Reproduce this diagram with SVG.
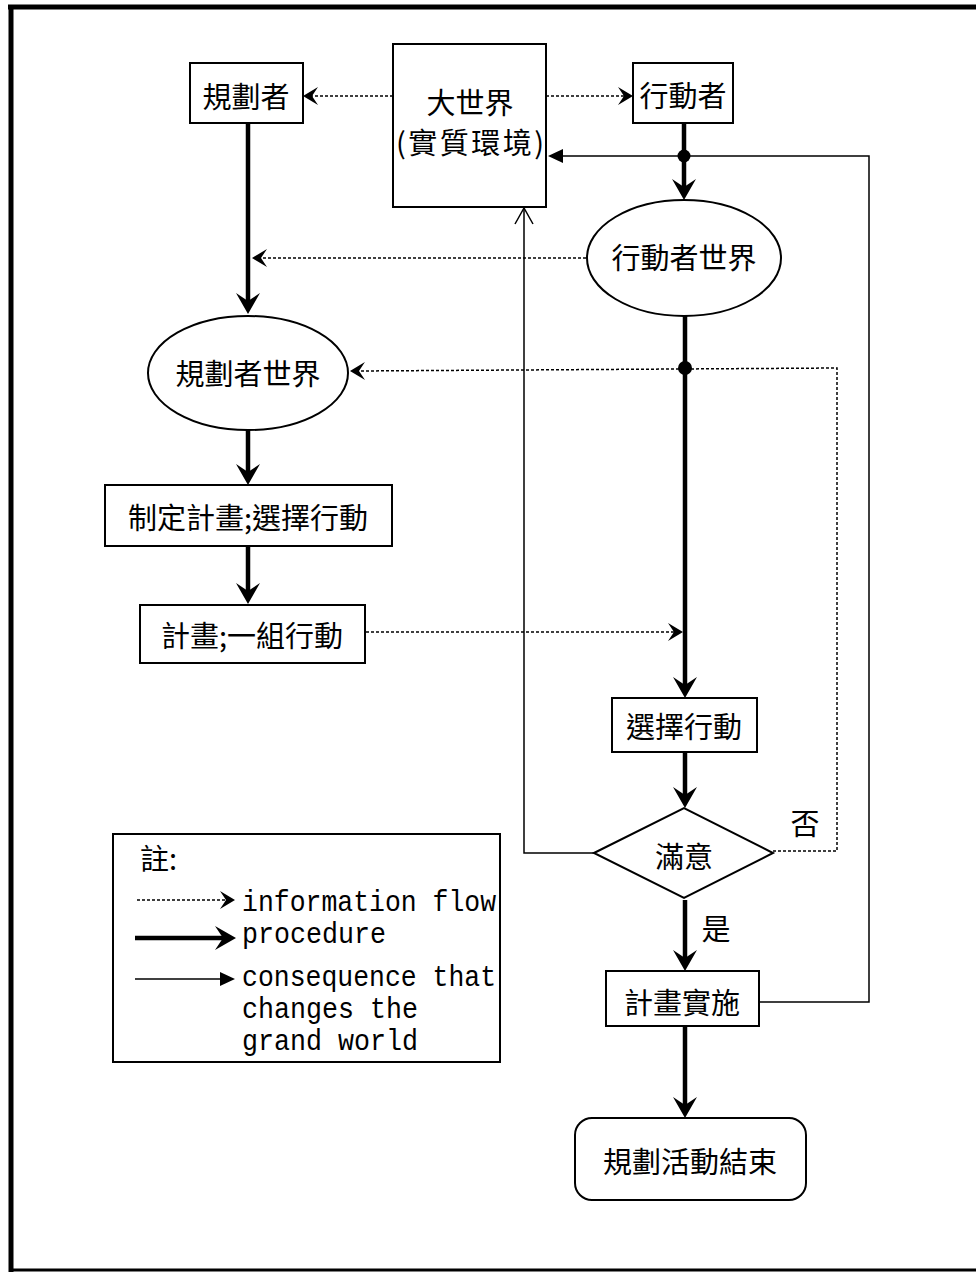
<svg xmlns="http://www.w3.org/2000/svg" width="976" height="1272" viewBox="0 0 976 1272">
<defs>
<style>
.box{fill:#fff;stroke:#000;stroke-width:2}
.t{font-family:"Noto Sans CJK TC","Noto Sans CJK SC",sans-serif;font-size:29px;text-anchor:middle;dominant-baseline:central;fill:#000}
.lg{font-family:"Liberation Mono",monospace;font-size:30px;fill:#000}
.info{fill:none;stroke:#000;stroke-width:1.5;stroke-dasharray:3 2}
.proc{fill:none;stroke:#000;stroke-width:4.5}
.cons{fill:none;stroke:#000;stroke-width:1.5}
.frame{fill:none;stroke:#000}
</style>
<marker id="mProc" markerUnits="userSpaceOnUse" viewBox="-24 -13 26 26" markerWidth="26" markerHeight="26" refX="-7" refY="0" orient="auto">
<path d="M0,0 L-21,-12 L-13,0 L-21,12 Z" fill="#000"/>
</marker>
<marker id="mInfo" markerUnits="userSpaceOnUse" viewBox="-18 -11 20 22" markerWidth="20" markerHeight="22" refX="-6" refY="0" orient="auto">
<path d="M0,0 L-15,-9 L-9,0 L-15,9 Z" fill="#000"/>
</marker>
<marker id="mCons" markerUnits="userSpaceOnUse" viewBox="-17 -9 18 18" markerWidth="18" markerHeight="18" refX="-10" refY="0" orient="auto">
<path d="M0,0 L-15,-7 L-15,7 Z" fill="#000"/>
</marker>
<marker id="mOpen" markerUnits="userSpaceOnUse" viewBox="-18 -11 20 22" markerWidth="20" markerHeight="22" refX="0" refY="0" orient="auto">
<path d="M-16,-9 L0,0 L-16,9" fill="none" stroke="#000" stroke-width="1.5"/>
</marker>
</defs>
<rect x="0" y="0" width="976" height="1272" fill="#fff"/>
<g id="frame">
<line class="frame" x1="8" y1="7" x2="976" y2="7" stroke-width="5"/>
<line class="frame" x1="11" y1="5" x2="11" y2="1272" stroke-width="5"/>
<line class="frame" x1="9" y1="1270" x2="976" y2="1270" stroke-width="3"/>
</g>
<g id="connectors">
<line class="info" x1="393" y1="96" x2="309" y2="96" marker-end="url(#mInfo)"/>
<line class="info" x1="546" y1="96" x2="627" y2="96" marker-end="url(#mInfo)"/>
<line class="info" x1="586" y1="258" x2="258" y2="258" marker-end="url(#mInfo)"/>
<polyline class="info" points="773,851 837,851 837,368 356,371" marker-end="url(#mInfo)"/>
<line class="info" x1="366" y1="632" x2="677" y2="632" marker-end="url(#mInfo)"/>
<line class="proc" x1="248" y1="123" x2="248" y2="307" marker-end="url(#mProc)"/>
<line class="proc" x1="684" y1="123" x2="684" y2="193" marker-end="url(#mProc)"/>
<line class="proc" x1="248" y1="430" x2="248" y2="478" marker-end="url(#mProc)"/>
<line class="proc" x1="248" y1="547" x2="248" y2="597" marker-end="url(#mProc)"/>
<line class="proc" x1="685" y1="316" x2="685" y2="691" marker-end="url(#mProc)"/>
<line class="proc" x1="685" y1="752" x2="685" y2="801" marker-end="url(#mProc)"/>
<line class="proc" x1="685" y1="900" x2="685" y2="964" marker-end="url(#mProc)"/>
<line class="proc" x1="685" y1="1027" x2="685" y2="1111" marker-end="url(#mProc)"/>
<polyline class="cons" points="759,1002 869,1002 869,156 558,156" marker-end="url(#mCons)"/>
<polyline class="cons" points="594,853 524,853 524,208" marker-end="url(#mOpen)"/>
<circle cx="684" cy="156" r="6.5" fill="#000"/>
<circle cx="685" cy="368" r="7" fill="#000"/>
</g>
<g id="n-planner">
<rect class="box" x="190" y="63" width="113" height="60"/>
<text class="t" x="246" y="95">規劃者</text>
</g>
<g id="n-grandworld">
<rect class="box" x="393" y="44" width="153" height="163"/>
<text class="t" x="470" y="101">大世界</text>
<text class="t" x="470" y="141" textLength="148" lengthAdjust="spacing">(實質環境)</text>
</g>
<g id="n-actor">
<rect class="box" x="633" y="63" width="100" height="60"/>
<text class="t" x="683" y="94">行動者</text>
</g>
<g id="n-actorworld">
<ellipse class="box" cx="684" cy="258" rx="97" ry="58"/>
<text class="t" x="684" y="256">行動者世界</text>
</g>
<g id="n-plannerworld">
<ellipse class="box" cx="248" cy="373" rx="100" ry="57"/>
<text class="t" x="248" y="372">規劃者世界</text>
</g>
<g id="n-makeplan">
<rect class="box" x="105" y="485" width="287" height="61"/>
<text class="t" x="248" y="516">制定計畫;選擇行動</text>
</g>
<g id="n-plan">
<rect class="box" x="140" y="605" width="225" height="58"/>
<text class="t" x="252" y="634">計畫;一組行動</text>
</g>
<g id="n-choose">
<rect class="box" x="612" y="698" width="145" height="54"/>
<text class="t" x="684" y="725">選擇行動</text>
</g>
<g id="n-satisfied">
<polygon class="box" points="594,853 684,808 773,853 684,898"/>
<text class="t" x="684" y="855">滿意</text>
</g>
<g id="l-no"><text class="t" x="805" y="822">否</text></g>
<g id="l-yes"><text class="t" x="716" y="927">是</text></g>
<g id="n-implement">
<rect class="box" x="606" y="971" width="153" height="55"/>
<text class="t" x="682" y="1001">計畫實施</text>
</g>
<g id="n-end">
<rect class="box" x="575" y="1118" width="231" height="82" rx="17" ry="17"/>
<text class="t" x="690" y="1160">規劃活動結束</text>
</g>
<g id="legend">
<rect class="box" x="113" y="834" width="387" height="228"/>
<text class="t" x="140" y="857" style="text-anchor:start">註:</text>
<line class="info" x1="137" y1="900" x2="229" y2="900" marker-end="url(#mInfo)"/>
<line class="proc" x1="135" y1="938" x2="229" y2="938" marker-end="url(#mProc)"/>
<line class="cons" x1="135" y1="979" x2="225" y2="979" marker-end="url(#mCons)"/>
<text class="lg" x="242" y="911" textLength="254" lengthAdjust="spacingAndGlyphs">information flow</text>
<text class="lg" x="242" y="943" textLength="144" lengthAdjust="spacingAndGlyphs">procedure</text>
<text class="lg" x="242" y="986" textLength="254" lengthAdjust="spacingAndGlyphs">consequence that</text>
<text class="lg" x="242" y="1018" textLength="176" lengthAdjust="spacingAndGlyphs">changes the</text>
<text class="lg" x="242" y="1050" textLength="176" lengthAdjust="spacingAndGlyphs">grand world</text>
</g>
</svg>
